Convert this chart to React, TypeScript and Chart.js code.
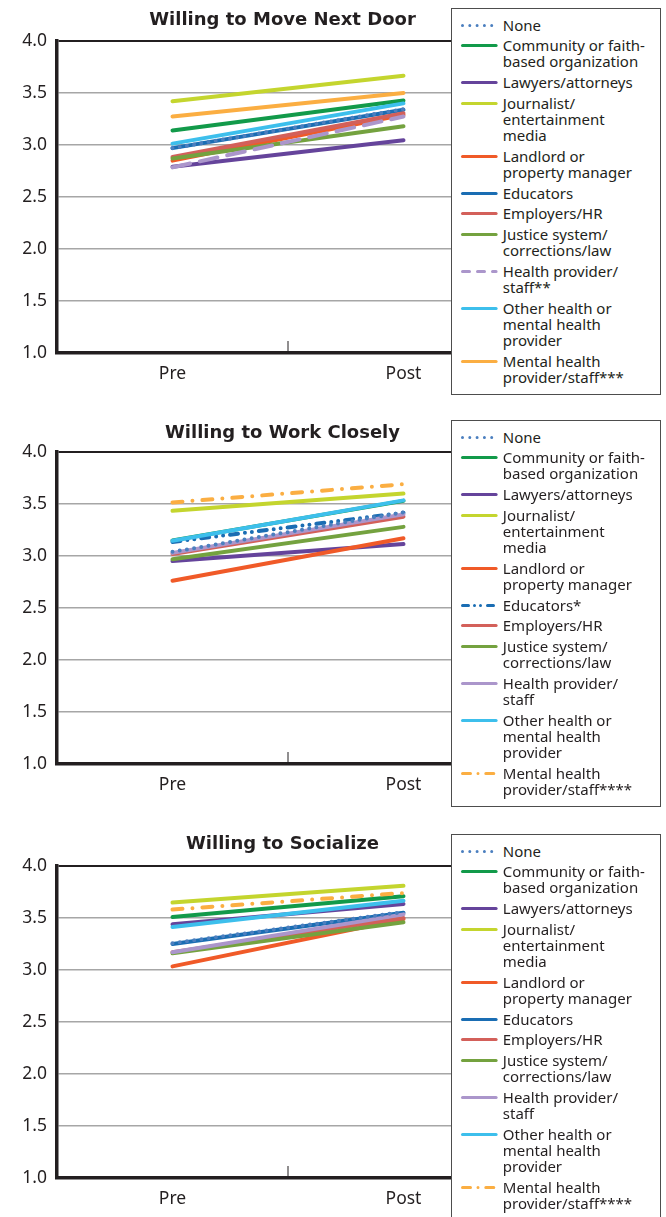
import React, { useEffect, useRef } from 'react';
import { Chart, registerables } from 'chart.js';

Chart.register(...registerables);

if (typeof document !== 'undefined') {
  document.documentElement.style.overflow = 'hidden';
  document.body.style.margin = '0';
}

const FONT = "'Noto Sans', 'Open Sans', sans-serif";
const TITLE_FONT = "'DejaVu Sans', 'Noto Sans', sans-serif";
const INK = '#231f20';

// ---------- data ----------
const categories = ['Pre', 'Post'];
const yTickValues = [1.0, 1.5, 2.0, 2.5, 3.0, 3.5, 4.0];

const seriesColors = [
  '#4b7fbf', // None
  '#129a4a', // Community
  '#65449b', // Lawyers
  '#c4d52e', // Journalist
  '#f05a28', // Landlord
  '#1a6db3', // Educators
  '#d3605a', // Employers
  '#74a23f', // Justice
  '#ab96cb', // Health provider
  '#3dbfec', // Other health
  '#fbae42', // Mental health
];

const moveLabels = [
  ['None'],
  ['Community or faith-', 'based organization'],
  ['Lawyers/attorneys'],
  ['Journalist/', 'entertainment', 'media'],
  ['Landlord or', 'property manager'],
  ['Educators'],
  ['Employers/HR'],
  ['Justice system/', 'corrections/law'],
  ['Health provider/', 'staff**'],
  ['Other health or', 'mental health', 'provider'],
  ['Mental health', 'provider/staff***'],
];
const moveStyles = ['dot', 'solid', 'solid', 'solid', 'solid', 'solid', 'solid', 'solid', 'dash', 'solid', 'solid'];
const movePre = [2.97, 3.14, 2.79, 3.42, 2.85, 2.97, 2.885, 2.87, 2.785, 3.013, 3.274];
const movePost = [3.345, 3.427, 3.045, 3.666, 3.29, 3.338, 3.306, 3.18, 3.274, 3.4, 3.5];

const workLabels = [
  ['None'],
  ['Community or faith-', 'based organization'],
  ['Lawyers/attorneys'],
  ['Journalist/', 'entertainment', 'media'],
  ['Landlord or', 'property manager'],
  ['Educators*'],
  ['Employers/HR'],
  ['Justice system/', 'corrections/law'],
  ['Health provider/', 'staff'],
  ['Other health or', 'mental health', 'provider'],
  ['Mental health', 'provider/staff****'],
];
const workStyles = ['dot', 'solid', 'solid', 'solid', 'solid', 'dashdotdot', 'solid', 'solid', 'solid', 'solid', 'dashdot'];
const workPre = [3.04, 3.15, 2.952, 3.435, 2.762, 3.135, 3.02, 2.968, 3.03, 3.146, 3.515];
const workPost = [3.42, 3.53, 3.115, 3.6, 3.17, 3.416, 3.378, 3.28, 3.4, 3.535, 3.69];

const socialLabels = [
  ['None'],
  ['Community or faith-', 'based organization'],
  ['Lawyers/attorneys'],
  ['Journalist/', 'entertainment', 'media'],
  ['Landlord or', 'property manager'],
  ['Educators'],
  ['Employers/HR'],
  ['Justice system/', 'corrections/law'],
  ['Health provider/', 'staff'],
  ['Other health or', 'mental health', 'provider'],
  ['Mental health', 'provider/staff****'],
];
const socialStyles = ['dot', 'solid', 'solid', 'solid', 'solid', 'solid', 'solid', 'solid', 'solid', 'solid', 'dashdot'];
const socialPre = [3.258, 3.51, 3.44, 3.648, 3.035, 3.25, 3.17, 3.16, 3.171, 3.413, 3.581];
const socialPost = [3.558, 3.71, 3.635, 3.809, 3.49, 3.55, 3.5, 3.46, 3.535, 3.665, 3.74];

// ---------- styles ----------
const plotDash: Record<string, number[]> = {
  solid: [],
  dot: [0, 7.3],
  dash: [18, 10],
  dashdot: [10, 10, 0, 10],
  dashdotdot: [8, 7, 0, 7, 0, 7],
};
const legendDash: Record<string, string | undefined> = {
  solid: undefined,
  dot: '0 7.3',
  dash: '7 8',
  dashdot: '8 7.5 0 7.8',
  dashdotdot: '6 6 0 6 0 7',
};

const CANVAS_W = 565;
const CANVAS_H = 385;
const PLOT_TOP = 33;

const midTick = {
  id: 'midTick',
  afterDraw(chart: any) {
    const x = chart.scales.x;
    const px = (x.getPixelForValue(0) + x.getPixelForValue(1)) / 2;
    const b = chart.chartArea.bottom;
    const ctx = chart.ctx;
    ctx.save();
    ctx.strokeStyle = INK;
    ctx.lineWidth = 1;
    ctx.beginPath();
    ctx.moveTo(px, b - 12);
    ctx.lineTo(px, b);
    ctx.stroke();
    ctx.restore();
  },
};

type PanelProps = {
  title: string;
  labels: string[][];
  styles: string[];
  pre: number[];
  post: number[];
  top: number;
  titleCenter: number;
  legendTop: number;
};

function Legend({ labels, styles, top }: { labels: string[][]; styles: string[]; top: number }) {
  return (
    <div
      style={{
        position: 'absolute',
        left: 451,
        top,
        width: 210,
        height: 387,
        boxSizing: 'border-box',
        border: '1.5px solid #4d4d4d',
        background: '#fff',
        padding: '7.6px 0 0 9.2px',
        fontFamily: FONT,
        fontSize: 15,
        lineHeight: '16.3px',
        color: INK,
        zIndex: 2,
      }}
    >
      {labels.map((lines, i) => (
        <div key={i} style={{ position: 'relative', marginBottom: 4.3, paddingLeft: 41.6 }}>
          <svg
            width={41}
            height={16.3}
            style={{ position: 'absolute', left: -2, top: 0, overflow: 'visible' }}
          >
            <line
              x1={3.5}
              x2={37.1}
              y1={8.6}
              y2={8.6}
              stroke={seriesColors[i]}
              strokeWidth={3}
              strokeLinecap="round"
              strokeDasharray={legendDash[styles[i]]}
            />
          </svg>
          {lines.map((l, j) => (
            <div key={j} style={{ whiteSpace: 'nowrap' }}>
              {l}
            </div>
          ))}
        </div>
      ))}
    </div>
  );
}

function Panel({ title, labels, styles, pre, post, top, titleCenter, legendTop }: PanelProps) {
  const ref = useRef<HTMLCanvasElement | null>(null);

  useEffect(() => {
    if (!ref.current) return;
    const n = labels.length;
    const datasets = labels.map((lines, i) => ({
      label: lines.join(' '),
      data: [pre[i], post[i]],
      borderColor: seriesColors[i],
      backgroundColor: seriesColors[i],
      borderWidth: 4,
      borderDash: plotDash[styles[i]],
      borderCapStyle: 'round' as const,
      pointRadius: 0,
      tension: 0,
      fill: false,
      order: i === 0 ? 0 : n - i,
    }));
    const chart = new Chart(ref.current, {
      type: 'line',
      data: { labels: categories, datasets },
      plugins: [midTick],
      options: {
        animation: false,
        responsive: false,
        devicePixelRatio: 1,
        layout: { padding: { left: 0, right: 46, top: PLOT_TOP, bottom: 0 } },
        plugins: {
          legend: { display: false },
          tooltip: { enabled: false },
          title: { display: false },
        },
        scales: {
          x: {
            type: 'category',
            offset: true,
            grid: { display: false, drawTicks: false },
            border: { display: true, color: INK, width: 3.5 },
            ticks: { color: INK, font: { family: FONT, size: 17.5 }, padding: 10.5 },
            afterFit: (s: any) => {
              s.height = CANVAS_H - PLOT_TOP - 312;
            },
          },
          y: {
            min: 1,
            max: 4,
            afterBuildTicks: (s: any) => {
              s.ticks = yTickValues.map((v) => ({ value: v }));
            },
            ticks: {
              color: INK,
              font: { family: FONT, size: 17.5 },
              padding: 10,
              callback: (v: any) => Number(v).toFixed(1),
            },
            grid: {
              drawTicks: false,
              color: (ctx: any) =>
                ctx.tick && ctx.tick.value === 4
                  ? INK
                  : ctx.tick && ctx.tick.value === 1
                  ? 'rgba(0,0,0,0)'
                  : '#a6a6a6',
              lineWidth: (ctx: any) => (ctx.tick && ctx.tick.value === 4 ? 2 : 1.5),
            },
            border: { display: true, color: INK, width: 3.5 },
            afterFit: (s: any) => {
              s.width = 57;
            },
          },
        },
      } as any,
    });
    return () => chart.destroy();
  }, []);

  return (
    <>
      <div
        style={{
          position: 'absolute',
          left: 0,
          width: CANVAS_W,
          top: titleCenter - 10,
          height: 20,
          lineHeight: '20px',
          textAlign: 'center',
          fontFamily: TITLE_FONT,
          fontWeight: 'bold',
          fontSize: 18,
          color: INK,
          whiteSpace: 'nowrap',
          zIndex: 1,
        }}
      >
        {title}
      </div>
      <canvas
        ref={ref}
        width={CANVAS_W}
        height={CANVAS_H}
        style={{ position: 'absolute', left: 0, top, width: CANVAS_W, height: CANVAS_H }}
      />
      <Legend labels={labels} styles={styles} top={legendTop} />
    </>
  );
}

export default function App() {
  return (
    <div
      style={{
        position: 'relative',
        width: 666,
        height: 1217,
        overflow: 'hidden',
        background: '#fff',
      }}
    >
      <Panel
        title="Willing to Move Next Door"
        labels={moveLabels}
        styles={moveStyles}
        pre={movePre}
        post={movePost}
        top={8}
        titleCenter={18.5}
        legendTop={8}
      />
      <Panel
        title="Willing to Work Closely"
        labels={workLabels}
        styles={workStyles}
        pre={workPre}
        post={workPost}
        top={419}
        titleCenter={431.5}
        legendTop={420}
      />
      <Panel
        title="Willing to Socialize"
        labels={socialLabels}
        styles={socialStyles}
        pre={socialPre}
        post={socialPost}
        top={833}
        titleCenter={843}
        legendTop={834}
      />
    </div>
  );
}
